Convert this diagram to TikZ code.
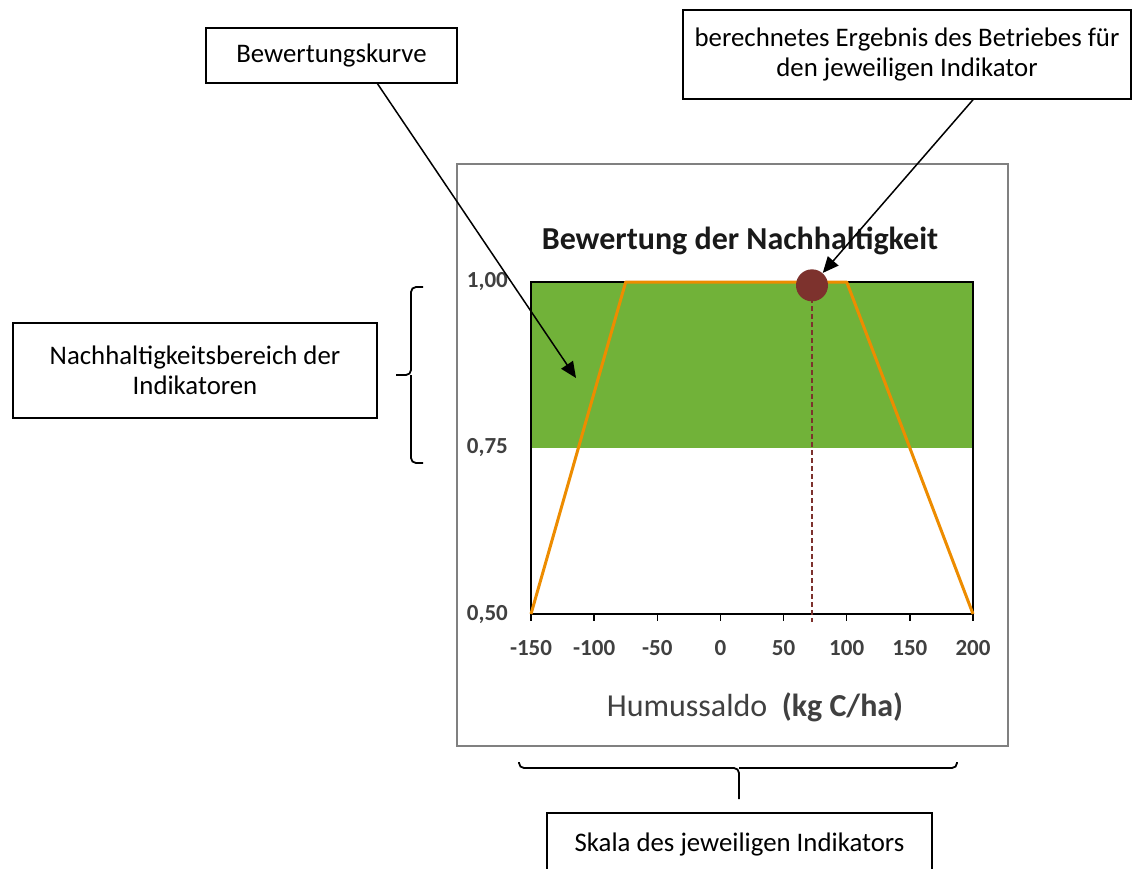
\documentclass[tikz,border=0pt]{standalone}
\usepackage{fontspec}
\setmainfont{Carlito}
\usetikzlibrary{arrows.meta}
\usetikzlibrary{calc,positioning}
\definecolor{gruen}{RGB}{113,178,57}
\definecolor{kurvenorange}{RGB}{237,140,0}
\definecolor{punktrot}{RGB}{125,50,45}
\definecolor{achsgrau}{RGB}{64,64,64}
\tikzset{
  kasten/.style={draw, line width=0.75pt, inner sep=0pt, align=center, font=\fontsize{13.4pt}{15pt}\selectfont},
  zeiger/.style={line width=0.75pt, -{Triangle[length=8pt,width=7pt]}},
  klammer/.style={line width=0.9pt, rounded corners=2.5pt},
  achslbl/.style={font=\fontsize{11.5pt}{13pt}\selectfont\bfseries, text=achsgrau, inner sep=0pt}
}

\begin{document}
\begin{tikzpicture}[x=0.5pt,y=-0.5pt]
  \useasboundingbox (0,0) rectangle (1133,868);
  \node[kasten, minimum width=125.5pt, minimum height=27.5pt] (kurve) at (331.5,55.5) {Bewertungskurve};
  \node[kasten, minimum width=224pt, minimum height=44.5pt] (ergebnis) at (907,54.5) {berechnetes Ergebnis des Betriebes für\\den jeweiligen Indikator};
  \node[kasten, minimum width=182pt, minimum height=47.5pt] (bereich) at (195,370.5) {Nachhaltigkeitsbereich der\\Indikatoren};
  \node[kasten, minimum width=192.5pt, minimum height=31pt] (skala) at (739.5,844) {Skala des jeweiligen Indikators};

  \draw[gray, line width=0.75pt] (457,164) rectangle (1008,746);
  \node[font=\fontsize{16pt}{18pt}\selectfont\bfseries, text=black!90] (titel) at (740,241) {Bewertung der Nachhaltigkeit};
  \node[font=\fontsize{16pt}{18pt}\selectfont, text=achsgrau] (achse) at (755,707) {Humussaldo\ \ \textbf{(kg C/ha)}};

  \begin{scope}[shift={(720.43,946)}, x=0.63143pt, y=332pt]
    \fill[gruen] (-150,0.75) rectangle (200,1);
    \draw[line width=1pt] (-150,0.5) rectangle (200,1);
    \foreach \v in {-150,-100,...,200} {
      \draw[line width=0.75pt] (\v,0.5) -- (\v,0.49);
      \node[achslbl] at (\v,0.449) {\v};
    }
    \node[achslbl, anchor=east] (y100) at (-168,1) {1,00};
    \node[achslbl, anchor=east] (y075) at (-168,0.75) {0,75};
    \node[achslbl, anchor=east] (y050) at (-168,0.5) {0,50};
    \draw[kurvenorange, line width=1.5pt, line join=round] (-150,0.5) -- (-75,1) -- (100,1) -- (200,0.5);
    \draw[punktrot, line width=0.6pt, dash pattern=on 2.5pt off 1.5pt] (72.5,1) -- (72.5,0.488);
    \node[circle, fill=punktrot, minimum size=16pt, inner sep=0pt] (punkt) at (72.5,0.995) {};
  \end{scope}

  \coordinate (kurvenziel) at (576,378);
  \draw[zeiger] ([xshift=23pt]kurve.south) -- (kurvenziel);
  \draw[zeiger] ([xshift=33pt]ergebnis.south) -- (punkt);

  \draw[klammer] (423,287) -| (411,375) -- (396,375);
  \draw[klammer] (423,463) -| (411,375);
  \draw[klammer] (519,762) |- (739,768) -- (739,799);
  \draw[klammer] (957,762) |- (739,768);
\end{tikzpicture}
\end{document}
